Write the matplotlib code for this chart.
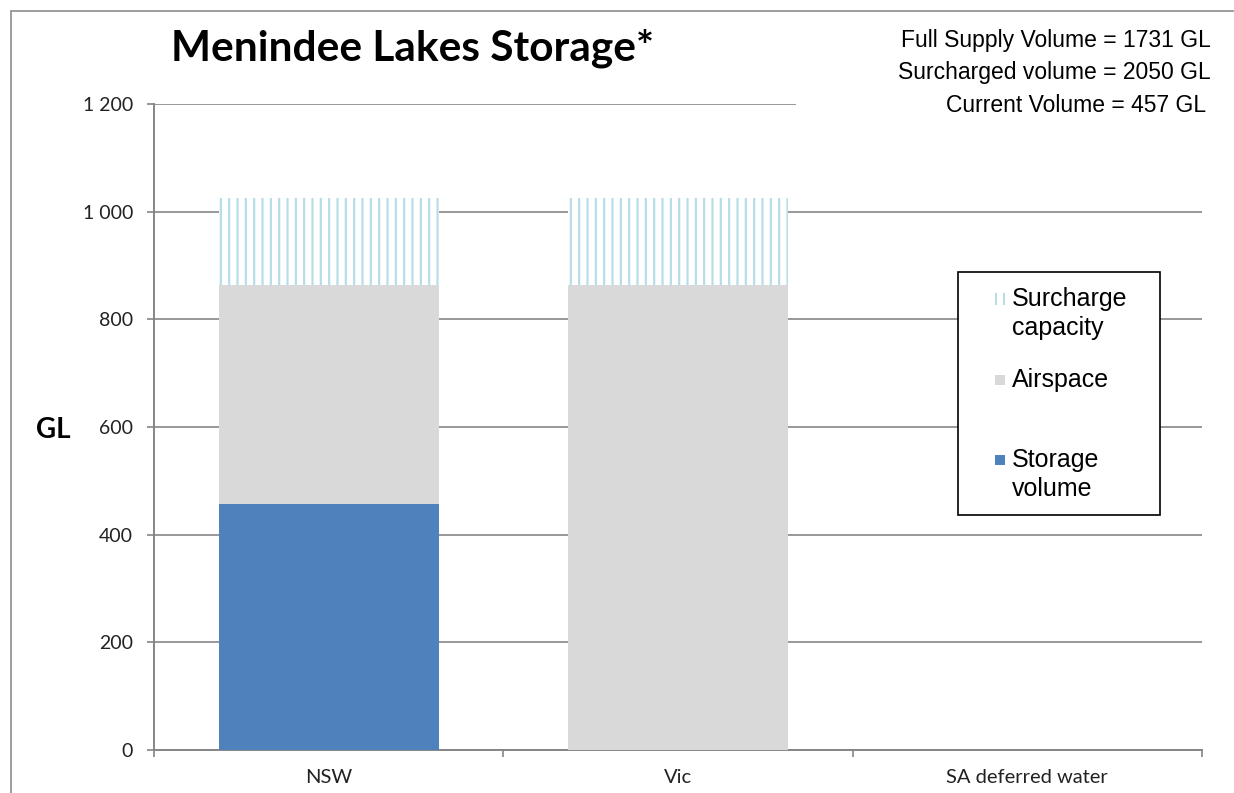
import matplotlib
matplotlib.use("Agg")
import matplotlib.pyplot as plt
from matplotlib.patches import Rectangle
from matplotlib.ticker import FuncFormatter

# data (GL)
categories = ['NSW', 'Vic', 'SA deferred water']
storage = [457, 0, 0]
airspace = [407, 864, 0]
surcharge = [161, 161, 0]

legend_labels = ['Surcharge\ncapacity', 'Airspace', 'Storage\nvolume']
notes = ['Full Supply Volume = 1731 GL',
         'Surcharged volume = 2050 GL',
         'Current Volume = 457 GL']

W, H = 1234, 793
blue = '#4f81bd'
grey = '#d9d9d9'
light_blue = '#b6dde8'
axis_grey = '#868686'

plt.rcParams['hatch.linewidth'] = 1.6

fig = plt.figure(figsize=(W / 100, H / 100), dpi=100)

def fx(px):
    return px / W

def fy(py):
    return 1 - py / H

ax = fig.add_axes([fx(154), fy(750), fx(1202) - fx(154), fy(104) - fy(750)])

x = list(range(len(categories)))
bw = 0.63
bottom2 = [s + a for s, a in zip(storage, airspace)]
ax.bar(x, storage, bw, color=blue, zorder=3)
ax.bar(x, airspace, bw, bottom=storage, color=grey, zorder=3)
ax.bar(x, surcharge, bw, bottom=bottom2, facecolor='white',
       edgecolor=light_blue, hatch='||', linewidth=0, zorder=3)

ax.set_xlim(-0.5, len(categories) - 0.5)
ax.set_ylim(0, 1200)
ax.set_yticks(range(0, 1201, 200))
ax.yaxis.set_major_formatter(FuncFormatter(lambda v, p: f'{int(v):,}'.replace(',', ' ')))
ax.set_xticks([i - 0.5 for i in range(len(categories) + 1)])
ax.set_xticklabels([])
ax.set_xticks(x, minor=True)
ax.set_xticklabels(categories, minor=True, fontfamily='Lato', fontsize=14.5, color='#222222')
ax.tick_params(axis='x', which='minor', length=0, pad=14)
ax.tick_params(axis='x', which='major', length=5, color=axis_grey, width=1.2)
ax.tick_params(axis='y', length=5, color=axis_grey, width=1.2, pad=10)
for lab in ax.get_yticklabels():
    lab.set_fontfamily('Lato')
    lab.set_fontsize(14)
    lab.set_color('#222222')

ax.grid(axis='y', color=axis_grey, linewidth=1.2, zorder=0)
ax.set_axisbelow(True)
for s in ['top', 'right']:
    ax.spines[s].set_visible(False)
for s in ['left', 'bottom']:
    ax.spines[s].set_color(axis_grey)
    ax.spines[s].set_linewidth(1.4)

# outer chart border (clipped by the image)
fig.add_artist(Rectangle((fx(11), -0.2), 2, fy(11) + 0.2, transform=fig.transFigure,
                         fill=False, edgecolor='#8c8c8c', linewidth=1.2))

# white box behind the notes (hides the top gridline)
fig.add_artist(Rectangle((fx(796), fy(122)), 1, fy(18) - fy(122), transform=fig.transFigure,
                         facecolor='white', edgecolor='none', zorder=5))

fig.text(fx(171), fy(48), 'Menindee Lakes Storage*', fontfamily='Lato', fontweight='bold',
         fontsize=30.5, va='center', ha='left')
fig.text(fx(53), fy(430), 'GL', fontfamily='Lato', fontweight='bold', fontsize=20,
         va='center', ha='center')

for i, t in enumerate(notes):
    fig.text(fx(1211) if i < 2 else fx(1206), fy(41 + i * 32), t, fontfamily='Liberation Sans',
             fontsize=16.5, ha='right', va='center', zorder=6)

# legend drawn by hand to keep the swatches level with the first line
fig.add_artist(Rectangle((fx(958), fy(515)), fx(1160) - fx(958), fy(272) - fy(515),
                         transform=fig.transFigure, facecolor='white', edgecolor='black',
                         linewidth=1.2, zorder=5))
swatch_y = [299, 380, 460]
line_gap = 29
faces = ['white', grey, blue]
for lab, yy, fc in zip(legend_labels, swatch_y, faces):
    if fc == 'white':
        fig.add_artist(Rectangle((fx(995), fy(yy + 6)), fx(10), fy(0) - fy(12),
                                 transform=fig.transFigure, facecolor='white',
                                 edgecolor=light_blue, hatch='||', linewidth=0, zorder=6))
    else:
        fig.add_artist(Rectangle((fx(995), fy(yy + 5)), fx(10), fy(0) - fy(10),
                                 transform=fig.transFigure, facecolor=fc,
                                 edgecolor='none', zorder=6))
    for j, line in enumerate(lab.split('\n')):
        fig.text(fx(1012), fy(yy + j * line_gap), line, fontfamily='Liberation Sans',
                 fontsize=18, ha='left', va='center', zorder=7)

fig.savefig('out.png', dpi=100)
